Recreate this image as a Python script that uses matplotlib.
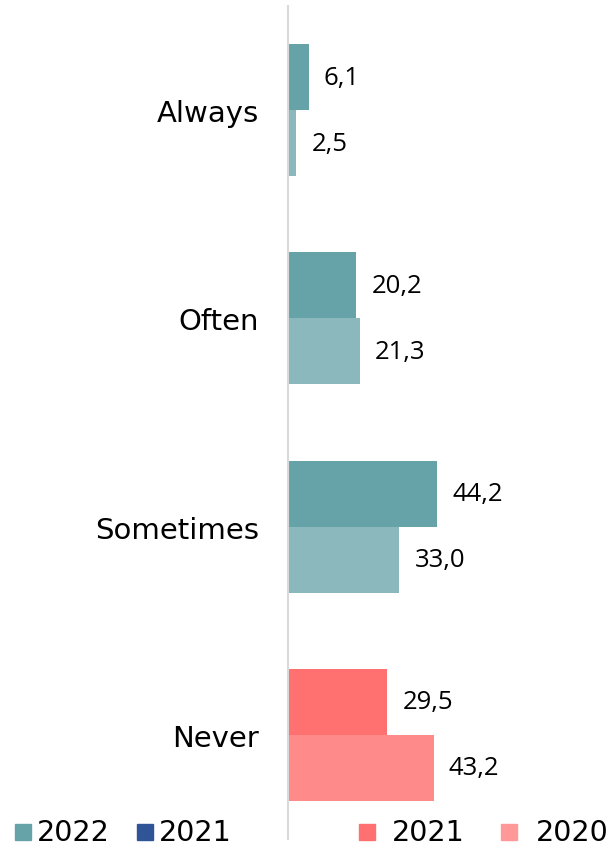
import matplotlib
matplotlib.use('Agg')
import matplotlib.pyplot as plt
from matplotlib.patches import Rectangle

# ---- data ----
categories = ['Always', 'Often', 'Sometimes', 'Never']
top_values = [6.1, 20.2, 44.2, 29.5]       # upper bar of each group
bottom_values = [2.5, 21.3, 33.0, 43.2]    # lower bar of each group
top_colors = ['#66a3a9', '#66a3a9', '#66a3a9', '#ff7070']
bottom_colors = ['#8ab8bd', '#8ab8bd', '#8ab8bd', '#ff8a8a']
legend_labels = ['2022', '2021', '2021', '2020']
legend_colors = ['#66a3a9', '#2f5597', '#ff7070', '#ff9999']

W, H, DPI = 613, 854, 100
fig = plt.figure(figsize=(W/DPI, H/DPI), dpi=DPI)

ax_left, ax_right = 288, 612
ax_top, ax_bot = 7, 840
ax = fig.add_axes([ax_left/W, 1 - ax_bot/H, (ax_right-ax_left)/W, (ax_bot-ax_top)/H])

px_per_unit = 3.37
bh = 0.317
pos = list(range(len(categories)))
ax.barh([p - bh/2 for p in pos], top_values, height=bh, color=top_colors)
ax.barh([p + bh/2 for p in pos], bottom_values, height=bh, color=bottom_colors)

for p, v in zip(pos, top_values):
    ax.annotate(f'{v:.1f}'.replace('.', ','), (v, p - bh/2), xytext=(11, 0),
                textcoords='offset points', va='center', ha='left',
                fontsize=18.5, family='Open Sans')
for p, v in zip(pos, bottom_values):
    ax.annotate(f'{v:.1f}'.replace('.', ','), (v, p + bh/2), xytext=(11, 0),
                textcoords='offset points', va='center', ha='left',
                fontsize=18.5, family='Open Sans')

ax.set_xlim(0, (ax_right - ax_left) / px_per_unit)
ax.set_ylim(len(categories) - 0.5, -0.5)
ax.set_yticks(pos)
ax.set_yticklabels(categories, fontsize=21, family='DejaVu Sans')
ax.tick_params(axis='y', length=0, pad=21)
ax.set_xticks([])
for s in ('top', 'right', 'bottom'):
    ax.spines[s].set_visible(False)
ax.spines['left'].set_color('#d9d9d9')
ax.spines['left'].set_linewidth(1.5)

# ---- legend (manual, two groups) ----
sq = 16
leg_y = 833
square_x = [15, 137, 359, 501]
text_x = [37, 159, 392, 536]
for lbl, col, sx, tx in zip(legend_labels, legend_colors, square_x, text_x):
    fig.add_artist(Rectangle((sx/W, 1 - (leg_y + sq/2)/H), sq/W, sq/H,
                             transform=fig.transFigure, color=col))
    fig.text(tx/W, 1 - leg_y/H, lbl, fontsize=20.5, va='center', ha='left',
             family='DejaVu Sans')

plt.savefig('out.png', dpi=DPI)
